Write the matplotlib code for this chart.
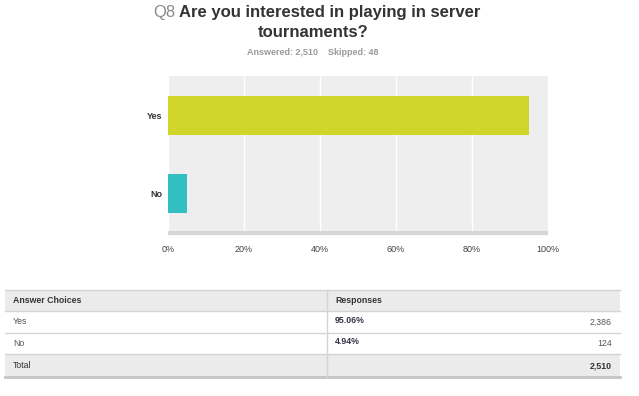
import matplotlib.pyplot as plt
import matplotlib.patches as patches
from matplotlib.transforms import offset_copy

plt.rcParams['font.family'] = ['Liberation Sans', 'DejaVu Sans']

# data
choices = ['Yes', 'No']
percents = [95.06, 4.94]
counts = [2386, 124]
answered = 2510
skipped = 48
bar_colors = ['#d1d52a', '#33bfc1']
x_ticks = [0, 20, 40, 60, 80, 100]


def main():
    fig = plt.figure(figsize=(6.39, 3.96), dpi=100)

    # title block, first line starts with a gray "Q8"
    q = fig.text(153 / 639, 0.968, 'Q8', fontsize=12, color='#8a8a8a', ha='left', va='center')
    renderer = fig.canvas.get_renderer()
    w = q.get_window_extent(renderer).width
    fig.text(153 / 639, 0.968, 'Are you interested in playing in server', fontsize=12,
             fontweight='bold', color='#333333', ha='left', va='center',
             transform=offset_copy(fig.transFigure, fig=fig, x=w + 4, units='dots'))
    fig.text(313 / 639, 0.918, 'tournaments?', fontsize=12, fontweight='bold',
             color='#333333', ha='center', va='center')
    fig.text(313 / 639, 0.868, 'Answered: %s    Skipped: %d' % (format(answered, ','), skipped),
             fontsize=6.5, fontweight='bold', color='#9a9a9a', ha='center', va='center')

    # bar chart
    ax = fig.add_axes([168 / 639, 1 - 233 / 396, 380 / 639, 157 / 396])
    ax.set_facecolor('#eeeeee')
    ypos = list(range(len(choices)))[::-1]
    ax.barh(ypos, percents, height=0.5, color=bar_colors, zorder=3)
    ax.set_xlim(0, 100)
    ax.set_ylim(-0.5, 1.5)
    ax.set_xticks(x_ticks)
    ax.set_xticklabels(['%d%%' % t for t in x_ticks], fontsize=6.5, color='#444444')
    ax.set_yticks(ypos)
    ax.set_yticklabels(choices, fontsize=6.5, fontweight='bold', color='#333333')
    ax.tick_params(length=0)
    ax.tick_params(axis='y', pad=4)
    ax.tick_params(axis='x', pad=9)
    ax.grid(axis='x', color='white', linewidth=1, zorder=1)
    for s in ['top', 'right', 'left']:
        ax.spines[s].set_visible(False)
    ax.spines['bottom'].set_color('#d6d6d6')
    ax.spines['bottom'].set_linewidth(3)
    ax.spines['bottom'].set_capstyle('butt')

    # table drawn in pixel coords
    tb = fig.add_axes([0, 0, 1, 1])
    tb.set_xlim(0, 639)
    tb.set_ylim(396, 0)
    tb.axis('off')

    left, mid, right = 5, 327, 620
    rows = [290, 311, 333, 354, 377]
    line_c = '#d4d4d4'

    tb.add_patch(patches.Rectangle((left, rows[0]), right - left, rows[1] - rows[0],
                                   facecolor='#ebebeb', edgecolor='none'))
    tb.add_patch(patches.Rectangle((left, rows[3]), right - left, rows[4] - rows[3],
                                   facecolor='#ebebeb', edgecolor='none'))
    for y in rows[:-1]:
        tb.plot([left, right], [y, y], color=line_c, linewidth=1)
    tb.plot([left, right], [rows[-1], rows[-1]], color='#c4c4c4', linewidth=2)
    tb.plot([mid, mid], [rows[0], rows[-1]], color=line_c, linewidth=1)

    fs = 6.3
    tb.text(13, (rows[0] + rows[1]) / 2, 'Answer Choices', fontsize=fs, fontweight='bold',
            color='#333333', va='center')
    tb.text(335, (rows[0] + rows[1]) / 2, 'Responses', fontsize=fs, fontweight='bold',
            color='#333333', va='center')
    for i, c in enumerate(choices):
        yc = (rows[i + 1] + rows[i + 2]) / 2
        tb.text(13, yc, c, fontsize=fs, color='#555555', va='center')
        tb.text(335, yc - 1.5, '%.2f%%' % percents[i], fontsize=fs, fontweight='bold',
                color='#333344', va='center')
        tb.text(612, yc, format(counts[i], ','), fontsize=fs, color='#555555',
                ha='right', va='center')
    yc = (rows[3] + rows[4]) / 2
    tb.text(13, yc, 'Total', fontsize=fs, color='#333333', va='center')
    tb.text(612, yc, format(answered, ','), fontsize=fs, fontweight='bold',
            color='#333333', ha='right', va='center')

    fig.savefig('out.png', dpi=100)
    plt.close(fig)


if __name__ == '__main__':
    main()
